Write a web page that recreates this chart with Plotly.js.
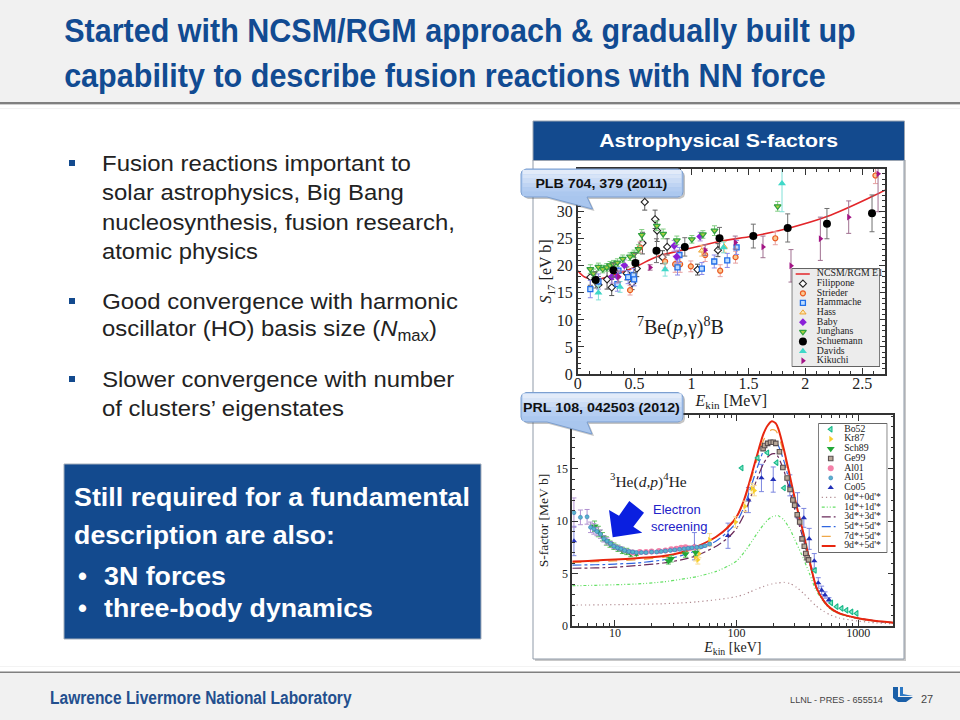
<!DOCTYPE html>
<html><head><meta charset="utf-8">
<script src="https://cdn.plot.ly/plotly-3.0.1.min.js"></script>
<style>html,body{margin:0;padding:0;background:#fff}#c{width:960px;height:720px}</style></head>
<body><div id="c"></div>
<script>
// ---------- slide text ----------
const titleLines = ["Started with NCSM/RGM approach & gradually built up","capability to describe fusion reactions with NN force"];
const bodyLines = ["Fusion reactions important to","solar astrophysics, Big Bang","nucleosynthesis, fusion research,","atomic physics",
 "Good convergence with harmonic","oscillator (HO) basis size (<i>N</i><sub>max</sub>)","Slower convergence with number","of clusters’ eigenstates"];
const boxLines = ["Still required for a fundamental","description are also:","•","3N forces","•","three-body dynamics"];

// ---------- top chart: 7Be(p,g)8B ----------
const curveE = [0,0.065,0.167,0.314,0.507,0.695,0.941,1.246,1.543,1.845,2.19,2.586,2.7];
const curveS = [19.1,17.9,17.5,18.3,19.8,21.7,23.0,24.5,25.5,26.9,29.1,32.8,34.0];
const filX=[.111,.182,.258,.299,.431,.478,.519,.569,.589,.680,.698,.745,.786,1.053,1.232];
const filY=[17.9,16.5,17.5,16.0,18.6,16.8,19.5,24.2,31.8,28.6,26.5,21.6,23.5,19.3,22.9];
const filE=[1.5,1.5,1.8,1.5,1.2,1.2,1.5,2,1.5,1.7,2,1.2,1.5,1,1.2];
const strX=[.46,.548,.768,.856,.9,.994,1.12,1.252,1.387,1.736,2.616];
const strY=[15.5,23.4,20.8,20.3,20.3,19.9,22,19.1,21.6,25.1,36.7];
const strE=[.9,1,1.2,1.5,1.5,1,1.2,1.1,1.1,1.2,1.5];
const hamX=[.111,.182,.349,.358,.443,.49,.496,.877,.894,1.091,1.2,1.314,1.396];
const hamY=[15.7,17.1,16.6,19.1,17.9,18.3,17.5,19.7,22,19.5,20.8,21,23.4];
const hamE=[1.6,1.4,1.3,1.3,1.2,1.2,1.2,1.4,1.4,1.1,1.2,1.3,1.3];
const hasX=[1.09,1.287]; const hasY=[22.8,23.5]; const hasE=[1,1];
const babX=[.3,.35,.41,.848,.87,1.076]; const babY=[18,18,20.1,23.7,21.7,25.4]; const babE=[1.2,1.2,1,1,1.2,.8];
const jungX=[.111,.138,.182,.22,.255,.284,.314,.349,.396,.46,.496,.534,.563,.695,.751,.871,1.003,1.1,1.202,1.757];
const jungY=[19.4,18.6,19.8,19.4,19.7,20.1,20.3,20.6,21.3,21.7,22.2,23.1,25.7,27.4,25.9,24.7,24.9,25.8,26.5,31.0];
const jungE=[.8,.8,.7,.7,.7,.7,.7,.7,.7,.7,.7,.8,1,.9,.9,.8,.7,.7,.9,.9];
const schX=[.158,.314,.507,.692,.941,1.246,1.543,1.845,2.19,2.586];
const schY=[17.4,19.2,20.5,22.8,23.5,25.1,25.5,27.0,27.8,29.7];
const schE=[1.5,1.3,1.8,2.2,1.7,2,2.2,2.6,2.8,3.4];
const davX=[.182,.372,.768,1.281,1.795]; const davY=[15,16.1,19.3,23.4,35.2]; const davE=[1.3,1,1.2,1,5.2];
const kikX=[.36,.636,1.12,1.384,1.628,1.874,2.132,2.381,2.639];
const kikY=[18,19.7,22.9,24.3,23.5,20,25,29,37];
const kikE=[1,.5,1,1.2,2,3,4,3,7];
const topTickX=[0,.5,1,1.5,2,2.5]; const topTickY=[0,5,10,15,20,25,30];

// ---------- bottom chart: 3He(d,p)4He ----------
const fitE=[4.46,6,8,10,15,25,35,47,68,85,100,115,129,145,165,180,195,210,220,245,275,310,355,400,450,520,590,700,1000,1400,1941];
const fit9=[6.15,6.2,6.28,6.34,6.45,6.66,7.0,7.55,8.5,9.4,10.4,12.0,13.9,16.0,18.2,19.1,19.5,19.3,18.8,16.8,14.2,11.5,8.8,6.1,3.74,2.4,1.7,1.2,.73,.47,.32];
const fit7=[6.05,6.1,6.15,6.2,6.3,6.55,6.9,7.5,8.5,9.5,10.4,11.9,13.6,15.6,17.6,18.4,18.7,18.6,18.2,16.4,14.0,11.3,8.7,6.05,3.74,2.4,1.7,1.2,.73,.47,.32];
const fit5=[5.8,5.82,5.85,5.9,6.0,6.3,6.7,7.2,8.1,9.0,9.9,11.3,13,14.8,16.6,17.3,17.6,17.5,17.2,15.7,13.5,11,8.5,6,3.8,2.4,1.7,1.2,.73,.47,.32];
const fit3=[5.5,5.52,5.55,5.6,5.75,6.0,6.3,6.7,7.6,8.4,9.3,10.6,12.1,13.8,15.4,16.1,16.4,16.4,16.1,14.8,12.8,10.5,8.2,5.9,3.7,2.4,1.7,1.2,.73,.47,.32];
const fit1=[3.85,3.86,3.9,3.93,4,4.2,4.45,4.7,5.2,5.7,6.2,7,7.8,8.7,9.6,10.1,10.4,10.5,10.5,10.1,9.2,7.9,6.4,4.9,3.4,2.3,1.6,1.15,.7,.45,.3];
const fit0=[2.0,2,2.02,2.03,2.06,2.12,2.2,2.3,2.5,2.65,2.8,3,3.25,3.5,3.75,3.9,4,4.08,4.1,4.15,4.05,3.7,3.1,2.5,1.9,1.4,1.05,.75,.47,.3,.2];
const bo52X=[110,149,179,213,245,440,600,664,730,800,880,970];
const bo52Y=[15.05,16,16.5,15.56,13.15,5.3,2.2,1.84,1.68,1.5,1.35,1.2];
const kr87X=[46,48,49,60,98,117,134,140]; const kr87Y=[6.6,6.3,6.9,8.2,9.9,11.4,13.1,12.9]; const kr87E=[.4,.4,.4,.6,.5,.5,.5,.5];
const sch89X=[6.8,7.3,7.9,8.5,9.1,9.8,10.6,11.5,12.5,13.5,15,27.5,29,38,46];
const sch89Y=[9.5,9.0,8.5,8.1,7.8,7.6,7.4,7.2,7.1,6.9,6.9,6.2,6.4,6.85,7.0];
const sch89E=[.5,.5,.4,.4,.3,.3,.3,.3,.3,.3,.2,.3,.3,.3,.3];
const ge99X=[165,170,180,190,200,210,225,240,260,275,290,300,315,330,345,360,370,380,390];
const ge99Y=[16.9,17.2,17.4,17.5,17.5,17.4,16.6,15.1,14.1,13.0,12.0,11.5,10.6,9.9,8.3,7.6,6.9,6.5,6.3];
const al1X=[14,16,18,20,23,26,29,32,35,38,41,45];
const al1Y=[7.0,7.05,7.05,7.1,7.15,7.2,7.3,7.35,7.45,7.5,7.4,7.5];
const al2X=[4.6,5.2,5.9,6.3,6.7,7.1,7.6,8.1,8.6,9.2,9.8,10.5,11.2,12,13,14,15,16.5,18,20,22,24,26,28.5,31,34,37,40,43,47,51,55,60];
const al2Y=[10.8,10.35,10.4,9.4,9.25,9.0,8.75,8.3,8.1,7.85,7.6,7.45,7.35,7.2,7.1,7.05,7.0,7.0,7.0,7.05,7.05,7.1,7.15,7.2,7.25,7.3,7.35,7.4,7.45,7.5,7.55,7.65,7.8];
const al2E=[1.4,.7,.7,.5,.5,.4,.4,.3,.3,.2,.2,.2,.2,.15,.15,.15,.1,.1,.1,.1,.1,.1,.1,.1,.1,.1,.1,.1,.1,.1,.1,.1,.1];
const co05X=[4.6,45,85,125,160,200,274,317,357,395,435,469,500,533,574];
const co05Y=[8.1,7.6,8.6,12,14.1,13.95,13.4,11.5,10.3,8.3,6.2,4.1,3.4,2.95,2.5];
const co05E=[1.4,1.3,1.2,1.2,1.3,1.2,1.0,1.2,.9,1,.7,.5,.4,.3,.2];
const botTickX=[10,100,1000]; const botTickText=["10","100","1000"];
const botMinorX=[5,6,7,8,9,20,30,40,50,60,70,80,90,200,300,400,500,600,700,800,900];
const botTickY=[0,5,10,15];

// ---------- colours ----------
const navy="#134a8e", titleBlue="#114b92", serif="Liberation Serif", sans="Liberation Sans", frame="#333333";
const X=p=>p/960, Y=p=>1-p/720;
const poly=pts=>pts.map((q,i)=>(i?"L":"M")+X(q[0])+","+Y(q[1])).join(" ")+" Z";
const rect=(x0,y0,x1,y1,fill,extra)=>Object.assign({type:"rect",xref:"paper",yref:"paper",x0:X(x0),x1:X(x1),y0:Y(y0),y1:Y(y1),fillcolor:fill,line:{width:0},layer:"below"},extra||{});
const path=(pts,fill,extra)=>Object.assign({type:"path",xref:"paper",yref:"paper",path:poly(pts),fillcolor:fill,line:{width:0},layer:"above"},extra||{});
const fitWidths=[];
const txt=(text,x,y,size,color,font,extra,w)=>{const a=Object.assign({text,xref:"paper",yref:"paper",x:X(x),y:Y(y),showarrow:false,xanchor:"left",yanchor:"middle",font:{size,color,family:font}},extra||{});fitWidths.push(w||0);return a;};

function callout(x0,y0,x1,y1,tipX,tipY){
  const r=5, out=[];
  const body=(d)=>[[x0+r+d,y0+d],[x1-r+d,y0+d],[x1-1+d,y0+2+d],[x1+d,y0+r+d],[x1+d,y1-r+d],[x1-1+d,y1-2+d],[x1-r+d,y1+d],[587+d,y1+d],[tipX+d,tipY+d],[547+d,y1+d],[x0+r+d,y1+d],[x0+1+d,y1-2+d],[x0+d,y1-r+d],[x0+d,y0+r+d],[x0+1+d,y0+2+d]];
  out.push(path(body(2),"rgba(60,60,60,0.30)"));
  out.push(path(body(0),"#a9c6ee",{line:{width:1,color:"#7c9fd0"}}));
  const h=y1-y0, n=6, cols=["#e2ebf9","#d7e4f7","#cbdcf5","#bfd4f3","#b4cdf1","#acc8ef"];
  for(let i=0;i<n;i++) out.push(rect(x0+1.5,y0+1+i*(h-2)/n,x1-1.5,y0+1+(i+1)*(h-2)/n,cols[i],{layer:"above"}));
  return out;
}

// ---------- shapes ----------
const shapes=[
 rect(0,0,960,102,"#f1f1f1"), rect(0,102,960,104,"#808080"), rect(0,104,960,105,"#cfcfcf"), rect(0,108,960,109,"#f2f2f2"),
 rect(0,672,960,720,"#f1f1f1"), rect(0,671.5,960,673,"#808080"), rect(0,666,960,667,"#f3f3f3"),
 rect(64,464,481,639,navy,{line:{width:1,color:"#a5aebb"}}),
 rect(535,160,906,661,"#c9c9c9"),
 rect(533,160,904,659,"#ffffff",{line:{width:1,color:"#8f9aa8"}}),
 rect(533,121,904.5,160.5,navy,{line:{width:1,color:"#9aa4b2"}}),
 rect(69,160,75,166,"#134a8e"),rect(69,298,75,304,"#134a8e"),rect(69,376,75,382,"#134a8e"),
 path([[893,687],[898,687],[898,697],[913,697],[906,702],[898,702],[893,698]],"#1a5fa8",{layer:"below"}),
 path([[900,687],[903,687],[903,694],[913,696],[900,696]],"#2b78c5",{layer:"below"}),
 // arrow
 path([[612.7,537.3],[609,510],[619,515.7],[629.3,501],[644,512.7],[633.3,526.7],[642.3,532.7]],"#0a1fe0"),
 ...callout(521,169,683,197,592.5,209),
 ...callout(521,392.5,683,422,592,434)
];

// ---------- annotations ----------
const bodyY=[164,193,222,251,301,330,379,408];
const bodyW=[309,302,353,156,356,335,353,242];
const boxY=[497,535,576,576,608,608], boxX=[72,72,76,102,76,102], boxW=[396,261,0,122,0,269];
const annotations=[
 txt("<b>"+titleLines[0]+"</b>",62,31,33,titleBlue,sans,{},792),
 txt("<b>"+titleLines[1]+"</b>",62,76,33,titleBlue,sans,{},762),
 ...bodyLines.map((s,i)=>txt(s,100,bodyY[i],22.5,"#222222",sans,{},bodyW[i])),
 ...boxLines.map((s,i)=>txt("<b>"+s+"</b>",boxX[i],boxY[i],25.5,"#ffffff",sans,{},boxW[i])),
 txt("<b>Astrophysical S-factors</b>",718,141,19,"#ffffff",sans,{xanchor:"center"},239),
 txt("<b>PLB 704, 379 (2011)</b>",601,183,13,"#111111",sans,{xanchor:"center"},132),
 txt("<b>PRL 108, 042503 (2012)</b>",601.5,407,13,"#111111",sans,{xanchor:"center"},157),
 txt("Electron",677,509,13,"#2222c8",sans,{xanchor:"center"}),
 txt("screening",679,526,13,"#2222c8",sans,{xanchor:"center"}),
 txt("<sup>7</sup>Be(<i>p</i>,γ)<sup>8</sup>B",680,327,20,"#222222",serif,{xanchor:"center"}),
 txt("<sup>3</sup>He(<i>d,p</i>)<sup>4</sup>He",648.5,481,15.5,"#222222",serif,{xanchor:"center"}),
 txt("<b>Lawrence Livermore National Laboratory</b>",48,697,19,"#234f8e",sans,{},302),
 txt("LLNL - PRES - 655514",788,699,9.5,"#444444",sans,{},93),
 txt("27",919,699,11,"#444444",sans)
];

// ---------- traces ----------
function pts(name,x,y,err,col,errCol,sym,size,lw,lc,ax,ay){
  const t={type:"scatter",mode:"markers",name,x,y,xaxis:ax,yaxis:ay,showlegend:false,cliponaxis:true,
    marker:{symbol:sym,size,color:col,line:{width:lw,color:lc||col}}};
  if(err) t.error_y={type:"data",array:err,visible:true,color:errCol,thickness:1,width:2.5};
  return t;
}
const topSeries=[
 {name:"Filippone",x:filX,y:filY,e:filE,col:"#ffffff",ec:"#555555",sym:"diamond",size:5.5,lw:1.1,lc:"#222222"},
 {name:"Strieder",x:strX,y:strY,e:strE,col:"#fbc890",ec:"#e6a0a0",sym:"circle",size:5,lw:1.2,lc:"#ea5a22"},
 {name:"Hammache",x:hamX,y:hamY,e:hamE,col:"#bcdcff",ec:"#8a8ae8",sym:"square",size:5,lw:1.3,lc:"#1f6ee8"},
 {name:"Hass",x:hasX,y:hasY,e:hasE,col:"#fde9b0",ec:"#f5c070",sym:"triangle-up",size:5.5,lw:1,lc:"#eda030"},
 {name:"Baby",x:babX,y:babY,e:babE,col:"#8a20d8",ec:"#b090d8",sym:"diamond",size:6,lw:0,lc:"#8a20d8"},
 {name:"Junghans",x:jungX,y:jungY,e:jungE,col:"#a8d040",ec:"#80cc80",sym:"triangle-down",size:6,lw:1.2,lc:"#2fa040"},
 {name:"Schuemann",x:schX,y:schY,e:schE,col:"#000000",ec:"#707070",sym:"circle",size:8,lw:0,lc:"#000"},
 {name:"Davids",x:davX,y:davY,e:davE,col:"#3fd8c8",ec:"#80e0d8",sym:"triangle-up",size:7,lw:0,lc:"#3fd8c8"},
 {name:"Kikuchi",x:kikX,y:kikY,e:kikE,col:"#a31486",ec:"#a07090",sym:"triangle-right",size:6,lw:0,lc:"#a31486"}
];
const botFits=[
 {name:"0d*+0d'*",y:fit0,col:"#b08a90",dash:"1.2px,3px",w:1.2},
 {name:"1d*+1d'*",y:fit1,col:"#66e066",dash:"3px,2px,1px,2px,1px,2px",w:1.2},
 {name:"3d*+3d'*",y:fit3,col:"#6a2a5a",dash:"dashdot",w:1.2},
 {name:"5d*+5d'*",y:fit5,col:"#2f66e0",dash:"dashdot",w:1.2},
 {name:"7d*+5d'*",y:fit7,col:"#f0a848",dash:"dash",w:1.3},
 {name:"9d*+5d'*",y:fit9,col:"#e8260f",dash:"solid",w:2}
];
const botSeries=[
 {name:"Co05",x:co05X,y:co05Y,e:co05E,col:"#2230b8",ec:"#7c86e0",sym:"triangle-up",size:5.5,lw:0},
 {name:"Kr87",x:kr87X,y:kr87Y,e:kr87E,col:"#f8cf2c",ec:"#f8dc90",sym:"triangle-right",size:5.5,lw:0},
 {name:"Sch89",x:sch89X,y:sch89Y,e:sch89E,col:"#22a838",ec:"#60c060",sym:"triangle-down",size:7,lw:0},
 {name:"Ge99",x:ge99X,y:ge99Y,e:null,col:"#b8a898",ec:"#888",sym:"square",size:4.5,lw:1.1,lc:"#5a5050"},
 {name:"Al01",x:al1X,y:al1Y,e:null,col:"#f480a8",ec:"#f0a0c0",sym:"circle",size:6,lw:0},
 {name:"Al01",x:al2X,y:al2Y,e:al2E,col:"#58b4cc",ec:"#b090d0",sym:"circle",size:4,lw:.6,lc:"#3878b8"},
 {name:"Bo52",x:bo52X,y:bo52Y,e:null,col:"#7fe8c8",ec:"#888",sym:"triangle-left",size:5,lw:1.1,lc:"#18b888"}
];
const botLegendMarks=["Bo52","Kr87","Sch89","Ge99","Al01","Al01","Co05"];
const traces=[];
traces.push({type:"scatter",mode:"lines",name:"NCSM/RGM E1",x:curveE,y:curveS,xaxis:"x",yaxis:"y",showlegend:false,line:{color:"#e3262a",width:1.6,shape:"spline"}});
topSeries.forEach(s=>traces.push(pts(s.name,s.x,s.y,s.e,s.col,s.ec,s.sym,s.size,s.lw,s.lc,"x","y")));
botSeries.slice(0,1).forEach(s=>traces.push(pts(s.name,s.x,s.y,s.e,s.col,s.ec,s.sym,s.size,s.lw,s.lc,"x2","y2")));
botFits.forEach(f=>traces.push({type:"scatter",mode:"lines",name:f.name,x:fitE,y:f.y,xaxis:"x2",yaxis:"y2",showlegend:false,line:{color:f.col,dash:f.dash,width:f.w,shape:"spline",smoothing:.6}}));
botSeries.slice(1).forEach(s=>traces.push(pts(s.name,s.x,s.y,s.e,s.col,s.ec,s.sym,s.size,s.lw,s.lc,"x2","y2")));

// manual legends (legend rows are tighter than Plotly's minimum)
const box=(ax,ay,fill,name)=>({type:"scatter",mode:"lines",name,x:[0,1,1,0,0],y:[0,0,1,1,0],xaxis:ax,yaxis:ay,fill:"toself",fillcolor:fill,line:{color:"#333333",width:1.2},showlegend:false,hoverinfo:"skip"});
traces.push(box("x3","y3","#ececec","legend box top"));
const ty0=0.942,tdy=0.098;
const lblT=(name,ax,ay,y,x)=>({type:"scatter",mode:"text",name,x:[x],y:[y],text:[name],textposition:"middle right",textfont:{family:serif,size:9.8,color:"#222"},xaxis:ax,yaxis:ay,showlegend:false,hoverinfo:"skip",cliponaxis:false});
traces.push({type:"scatter",mode:"lines",name:"NCSM/RGM E1 key",x:[.045,.205],y:[ty0,ty0],xaxis:"x3",yaxis:"y3",line:{color:"#e3262a",width:1.6},showlegend:false});
traces.push(lblT("NCSM/RGM E1","x3","y3",ty0,.285));
topSeries.forEach((s,i)=>{const yy=ty0-tdy*(i+1);
 traces.push(pts(s.name+" key",[.127],[yy],null,s.col,s.ec,s.sym,s.size,s.lw,s.lc,"x3","y3"));
 traces.push(lblT(s.name,"x3","y3",yy,.285));});
traces.push(box("x4","y4","#ffffff","legend box bottom"));
const by0=.954,bdy=.0752;
botLegendMarks.forEach((n,i)=>{const yy=by0-bdy*i;
 const s=n==="Al01"?botSeries.filter(q=>q.name==="Al01")[i-4]:botSeries.find(q=>q.name===n);
 traces.push(pts(n+" key",[.18],[yy],null,s.col,s.ec,s.sym,s.size,s.lw,s.lc,"x4","y4"));
 traces.push(lblT(n,"x4","y4",yy,.375));});
botFits.forEach((f,i)=>{const yy=by0-bdy*(i+7);
 traces.push({type:"scatter",mode:"lines",name:f.name+" key",x:[.05,.25],y:[yy,yy],xaxis:"x4",yaxis:"y4",line:{color:f.col,dash:f.dash,width:f.w},showlegend:false});
 traces.push(lblT(f.name,"x4","y4",yy,.375));});

// ---------- axes ----------
const frameAxis={showline:true,linecolor:frame,linewidth:1.6,mirror:"allticks",ticks:"inside",tickcolor:frame,showgrid:false,zeroline:false,fixedrange:true,automargin:false};
const hidden={visible:false,fixedrange:true,range:[0,1],showgrid:false,zeroline:false};
const layout={
 width:960,height:720,margin:{l:0,r:0,t:0,b:0},paper_bgcolor:"#ffffff",plot_bgcolor:"rgba(0,0,0,0)",showlegend:false,hovermode:false,
 shapes,annotations,
 xaxis:Object.assign({},frameAxis,{domain:[X(577.7),X(885)],range:[0,2.7],anchor:"y",tickmode:"array",tickvals:topTickX,ticktext:["0","0.5","1","1.5","2","2.5"],ticklen:6,ticklabelstandoff:-6,
   tickfont:{family:serif,size:16,color:"#222"},minor:{dtick:.1,ticks:"inside",ticklen:3,tickcolor:frame},
   title:{text:"<i>E</i><sub>kin</sub> [MeV]",font:{family:serif,size:16,color:"#222"},standoff:0}}),
 yaxis:Object.assign({},frameAxis,{domain:[Y(374),Y(169)],range:[0,37.9],anchor:"x",tickmode:"array",tickvals:topTickY,ticklen:6,
   tickfont:{family:serif,size:16,color:"#222"},minor:{dtick:1,ticks:"inside",ticklen:3,tickcolor:frame},
   title:{text:"<i>S</i><sub>17</sub> [eV b]",font:{family:serif,size:16,color:"#222"},standoff:0}}),
 xaxis2:Object.assign({},frameAxis,{type:"log",domain:[X(572.3),X(893.3)],range:[Math.log10(4.46),Math.log10(1941)],anchor:"y2",tickmode:"array",tickvals:botTickX,ticktext:botTickText,ticklen:6,ticklabelstandoff:-5,
   tickfont:{family:serif,size:12,color:"#222"},minor:{tickmode:"array",tickvals:botMinorX,ticks:"inside",ticklen:3,tickcolor:frame},
   title:{text:"<i>E</i><sub>kin</sub> [keV]",font:{family:serif,size:14,color:"#222"},standoff:0}}),
 yaxis2:Object.assign({},frameAxis,{domain:[Y(626),Y(415)],range:[0,20.1],anchor:"x2",tickmode:"array",tickvals:botTickY,ticklen:6,
   tickfont:{family:serif,size:12,color:"#222"},minor:{dtick:1,ticks:"inside",ticklen:3,tickcolor:frame},
   title:{text:"S-factor [MeV b]",font:{family:serif,size:13.5,color:"#222"},standoff:4}}),
 xaxis3:Object.assign({},hidden,{domain:[X(791.7),X(880)],anchor:"y3"}),
 yaxis3:Object.assign({},hidden,{domain:[Y(366.7),Y(268.3)],anchor:"x3"}),
 xaxis4:Object.assign({},hidden,{domain:[X(818.3),X(887.3)],anchor:"y4"}),
 yaxis4:Object.assign({},hidden,{domain:[Y(552.7),Y(423.3)],anchor:"x4"})
};
Plotly.newPlot("c",traces,layout,{displayModeBar:false,responsive:false}).then(()=>{
  // the slide's type is horizontally stretched or condensed: fit each line to its measured width
  document.querySelectorAll("g.annotation").forEach(g=>{
    const i=+g.getAttribute("data-index"), w=fitWidths[i], t=g.querySelector("text.annotation-text");
    if(!w||!t) return;
    const b=t.getBBox(), s=w/b.width, ox=annotations[i].xanchor==="center"?b.x+b.width/2:b.x;
    t.setAttribute("transform","translate("+ox+" 0) scale("+s+" 1) translate("+(-ox)+" 0)");
  });
});
</script></body></html>
